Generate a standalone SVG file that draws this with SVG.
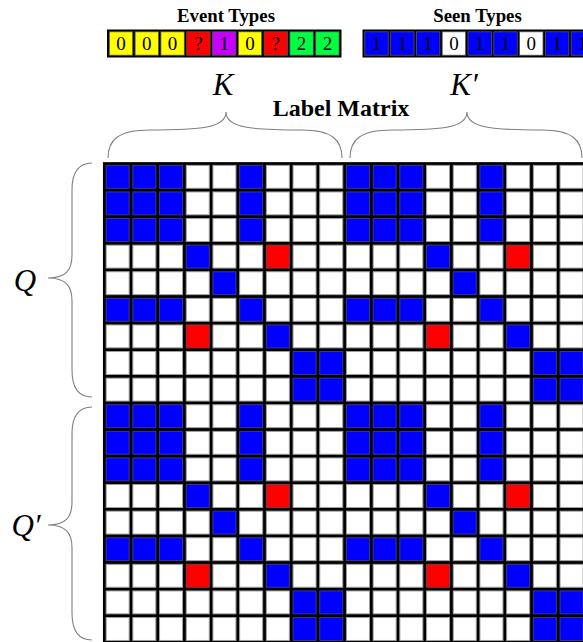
<svg xmlns="http://www.w3.org/2000/svg" xmlns:xlink="http://www.w3.org/1999/xlink" width="583" height="642" viewBox="0 0 583 642">
<style>
.ttl{font-family:"Liberation Serif","Times New Roman",serif;font-weight:bold;font-size:18.8px;fill:#000;text-anchor:middle}
.big{font-family:"Liberation Serif","Times New Roman",serif;font-weight:bold;font-size:24px;fill:#000;text-anchor:middle}
.math{font-family:"Liberation Serif","Times New Roman",serif;font-style:italic;font-size:31px;fill:#000;text-anchor:middle}
.num{font-family:"Liberation Serif","Times New Roman",serif;font-size:19px;fill:#000;text-anchor:middle}
.brace{fill:none;stroke:#7f7f7f;stroke-width:1.1}
.tc{stroke:#555;stroke-width:0.8}
</style>
<defs>
<rect id="cw" x="1.85" y="1.85" width="23" height="22.9" fill="#fff" stroke="#a0a0a0" stroke-width="1"/>
<rect id="cb" x="1.85" y="1.85" width="23" height="22.9" fill="#0000ff" stroke="#3a3a8a" stroke-width="1"/>
<rect id="cr" x="1.85" y="1.85" width="23" height="22.9" fill="#ff0000" stroke="#8a3a3a" stroke-width="1"/>
<g id="hA"><use href="#cb" x="0"/><use href="#cb" x="26.7"/><use href="#cb" x="53.4"/><use href="#cw" x="80.1"/><use href="#cw" x="106.8"/><use href="#cb" x="133.5"/><use href="#cw" x="160.2"/><use href="#cw" x="186.9"/><use href="#cw" x="213.6"/></g>
<g id="hB"><use href="#cw" x="0"/><use href="#cw" x="26.7"/><use href="#cw" x="53.4"/><use href="#cb" x="80.1"/><use href="#cw" x="106.8"/><use href="#cw" x="133.5"/><use href="#cr" x="160.2"/><use href="#cw" x="186.9"/><use href="#cw" x="213.6"/></g>
<g id="hC"><use href="#cw" x="0"/><use href="#cw" x="26.7"/><use href="#cw" x="53.4"/><use href="#cw" x="80.1"/><use href="#cb" x="106.8"/><use href="#cw" x="133.5"/><use href="#cw" x="160.2"/><use href="#cw" x="186.9"/><use href="#cw" x="213.6"/></g>
<g id="hE"><use href="#cw" x="0"/><use href="#cw" x="26.7"/><use href="#cw" x="53.4"/><use href="#cr" x="80.1"/><use href="#cw" x="106.8"/><use href="#cw" x="133.5"/><use href="#cb" x="160.2"/><use href="#cw" x="186.9"/><use href="#cw" x="213.6"/></g>
<g id="hF"><use href="#cw" x="0"/><use href="#cw" x="26.7"/><use href="#cw" x="53.4"/><use href="#cw" x="80.1"/><use href="#cw" x="106.8"/><use href="#cw" x="133.5"/><use href="#cw" x="160.2"/><use href="#cb" x="186.9"/><use href="#cb" x="213.6"/></g>
<g id="blk"><use href="#hA" y="0"/><use href="#hA" y="26.6"/><use href="#hA" y="53.2"/><use href="#hB" y="79.8"/><use href="#hC" y="106.4"/><use href="#hA" y="133"/><use href="#hE" y="159.6"/><use href="#hF" y="186.2"/><use href="#hF" y="212.8"/></g>
</defs>
<rect width="583" height="642" fill="#fff"/>

<g id="event-types">
<text class="ttl" x="226" y="22">Event Types</text>
<rect x="107" y="29.5" width="234.5" height="28" fill="#000"/>
<rect class="tc" x="109.3" y="31.8" width="23.4" height="23.4" fill="#ffff00"/>
<rect class="tc" x="135.1" y="31.8" width="23.4" height="23.4" fill="#ffff00"/>
<rect class="tc" x="160.9" y="31.8" width="23.4" height="23.4" fill="#ffff00"/>
<rect class="tc" x="186.7" y="31.8" width="23.4" height="23.4" fill="#ff0000"/>
<rect class="tc" x="212.5" y="31.8" width="23.4" height="23.4" fill="#c800ff"/>
<rect class="tc" x="238.3" y="31.8" width="23.4" height="23.4" fill="#ffff00"/>
<rect class="tc" x="264.1" y="31.8" width="23.4" height="23.4" fill="#ff0000"/>
<rect class="tc" x="289.9" y="31.8" width="23.4" height="23.4" fill="#00ff40"/>
<rect class="tc" x="315.7" y="31.8" width="23.4" height="23.4" fill="#00ff40"/>
<text class="num" x="121" y="50">0</text>
<text class="num" x="146.8" y="50">0</text>
<text class="num" x="172.6" y="50">0</text>
<text class="num" x="198.4" y="50">?</text>
<text class="num" x="224.2" y="50">1</text>
<text class="num" x="250" y="50">0</text>
<text class="num" x="275.8" y="50">?</text>
<text class="num" x="301.6" y="50">2</text>
<text class="num" x="327.4" y="50">2</text>
</g>

<g id="seen-types">
<text class="ttl" x="477.5" y="22">Seen Types</text>
<rect x="362.5" y="29.5" width="240" height="28" fill="#000"/>
<rect class="tc" x="364.8" y="31.8" width="23.4" height="23.4" fill="#0000ff"/>
<rect class="tc" x="390.6" y="31.8" width="23.4" height="23.4" fill="#0000ff"/>
<rect class="tc" x="416.4" y="31.8" width="23.4" height="23.4" fill="#0000ff"/>
<rect class="tc" x="442.2" y="31.8" width="23.4" height="23.4" fill="#ffffff"/>
<rect class="tc" x="468" y="31.8" width="23.4" height="23.4" fill="#0000ff"/>
<rect class="tc" x="493.8" y="31.8" width="23.4" height="23.4" fill="#0000ff"/>
<rect class="tc" x="519.6" y="31.8" width="23.4" height="23.4" fill="#ffffff"/>
<rect class="tc" x="545.4" y="31.8" width="23.4" height="23.4" fill="#0000ff"/>
<rect class="tc" x="571.2" y="31.8" width="23.4" height="23.4" fill="#0000ff"/>
<text class="num" x="376.5" y="50">1</text>
<text class="num" x="402.3" y="50">1</text>
<text class="num" x="428.1" y="50">1</text>
<text class="num" x="453.9" y="50">0</text>
<text class="num" x="479.7" y="50">1</text>
<text class="num" x="505.5" y="50">1</text>
<text class="num" x="531.3" y="50">0</text>
<text class="num" x="557.1" y="50">1</text>
<text class="num" x="582.9" y="50">1</text>
</g>

<g id="label-matrix-title"><text class="big" x="341" y="115.5">Label Matrix</text></g>

<g id="brace-K">
<path class="brace" d="M108,158 C108,140 118,130 150,130 C200,130 226,128 226,112 C226,128 252,130 302,130 C332,130 342,140 342,158"/>
<text class="math" x="223" y="95">K</text>
</g>
<g id="brace-K2">
<path class="brace" d="M350,158 C350,140 360,130 392,130 C441,130 467,128 467,112 C467,128 493,130 542,130 C572,130 582,140 582,158"/>
<text class="math" x="464" y="95">K′</text>
</g>
<g id="brace-Q">
<path class="brace" d="M92,163 C78,163 72,172 72,190 L72,255 C72,270 66,278 48,278 C66,278 72,286 72,301 L72,370 C72,388 78,397 92,397"/>
<text class="math" x="25" y="291">Q</text>
</g>
<g id="brace-Q2">
<path class="brace" d="M92,407 C78,407 72,416 72,434 L72,502 C72,517 66,525 48,525 C66,525 72,533 72,548 L72,613 C72,631 78,640 92,640"/>
<text class="math" x="26" y="536">Q′</text>
</g>

<g id="label-matrix">
<rect x="102.95" y="162.15" width="600" height="600" fill="#000"/>
<use href="#blk" x="104.3" y="163.5"/>
<use href="#blk" x="344.6" y="163.5"/>
<use href="#blk" x="104.3" y="402.9"/>
<use href="#blk" x="344.6" y="402.9"/>
</g>
</svg>
